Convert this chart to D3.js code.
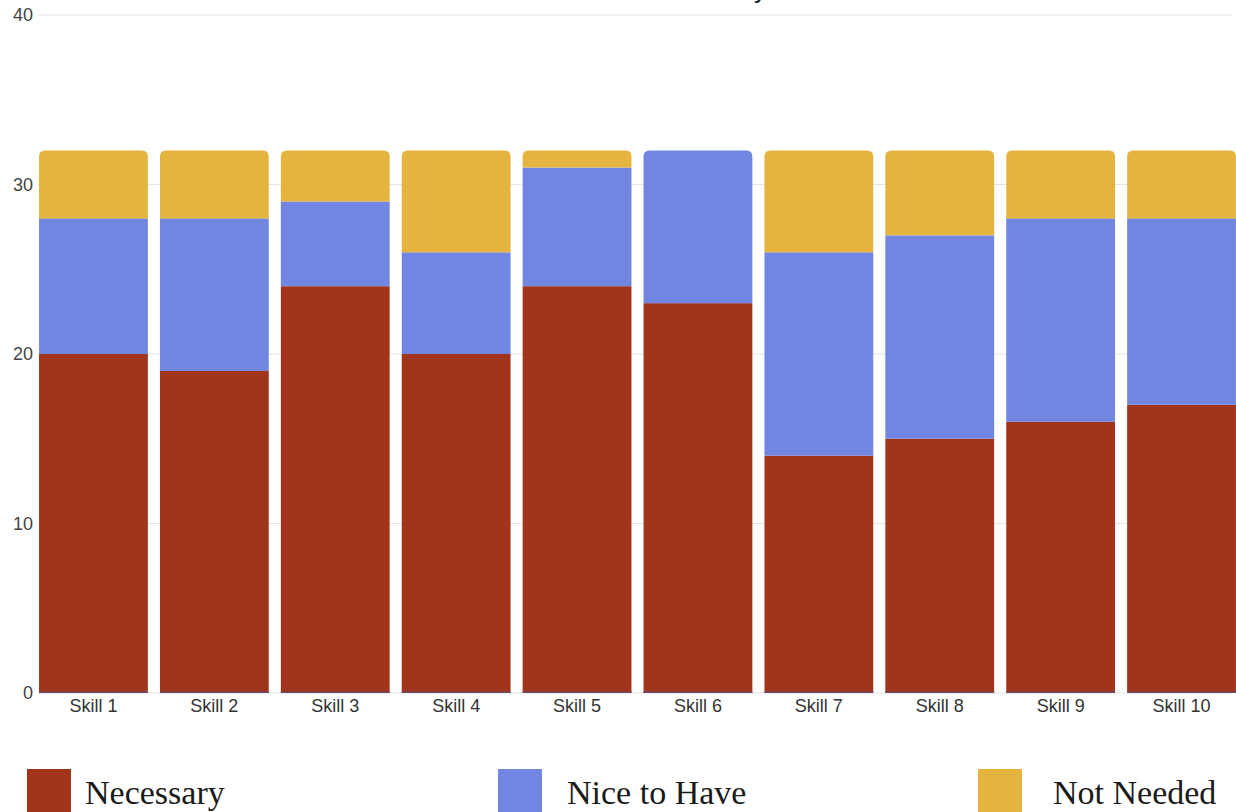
<!DOCTYPE html>
<html>
<head>
<meta charset="utf-8">
<script src="https://cdn.jsdelivr.net/npm/d3@7"></script>
<style>
  html, body { margin: 0; padding: 0; background: #ffffff; overflow: hidden; }
  svg { display: block; }
</style>
</head>
<body>
<svg id="chart" width="1236" height="812"></svg>
<script>
const categories = ["Skill 1","Skill 2","Skill 3","Skill 4","Skill 5","Skill 6","Skill 7","Skill 8","Skill 9","Skill 10"];
const seriesNames = ["Necessary","Nice to Have","Not Needed"];
const necessary  = [20,19,24,20,24,23,14,15,16,17];
const niceToHave = [ 8, 9, 5, 6, 7, 9,12,12,12,11];
const notNeeded  = [ 4, 4, 3, 6, 1, 0, 6, 5, 4, 4];
const yTicks = [0,10,20,30,40];
const colors = ["#a1341b","#7086e0","#e4b43f"];
const titleText = "Skill Necessity";

const rows = categories.map((c,i)=>({cat:c, "Necessary":necessary[i], "Nice to Have":niceToHave[i], "Not Needed":notNeeded[i]}));
const stack = d3.stack().keys(seriesNames);
const layers = stack(rows);

const svg = d3.select("#chart");
const x = d3.scaleBand().domain(categories).range([33, 1242]).paddingInner(0.1).paddingOuter(0.05);
const y = d3.scaleLinear().domain([0,40]).range([693, 15]);

// title (mostly cut off at top, as in the reference)
svg.append("text").attr("x", 767).attr("y", -2).attr("text-anchor","end")
  .attr("font-family","Liberation Sans, Arial, sans-serif").attr("font-size",26)
  .attr("fill","#222").text(titleText);

// gridlines
svg.append("g").selectAll("line").data(yTicks).join("line")
  .attr("x1", 38).attr("x2", 1232)
  .attr("y1", d=>y(d)).attr("y2", d=>y(d))
  .attr("stroke", "#e3e3e3").attr("stroke-width", 1.2);

// y axis labels
const yAxis = d3.axisLeft(y).tickValues(yTicks).tickSize(0).tickPadding(0);
const yg = svg.append("g").attr("transform","translate(33,0)").call(yAxis);
yg.select(".domain").remove();
yg.selectAll("text").attr("font-family","Liberation Sans, Arial, sans-serif").attr("font-size",18).attr("fill","#444");

// bars
const r = 6;
function roundedTop(x0, y0, w, h, rad){
  rad = Math.min(rad, h, w/2);
  return `M${x0},${y0+h}V${y0+rad}Q${x0},${y0} ${x0+rad},${y0}H${x0+w-rad}Q${x0+w},${y0} ${x0+w},${y0+rad}V${y0+h}Z`;
}
const bw = x.bandwidth();
layers.forEach((layer, li) => {
  const g = svg.append("g").attr("fill", colors[li]);
  layer.forEach((d, i) => {
    const h = y(d[0]) - y(d[1]);
    if (h <= 0) return;
    let isTop = true;
    for (let k = li+1; k < layers.length; k++) if (layers[k][i][1] - layers[k][i][0] > 0) isTop = false;
    const x0 = x(categories[i]);
    if (isTop) {
      g.append("path").attr("d", roundedTop(x0, y(d[1]), bw, h, r));
    } else {
      g.append("rect").attr("x", x0).attr("y", y(d[1])).attr("width", bw).attr("height", h);
    }
  });
});

// thin baseline under each bar
svg.append("g").selectAll("rect").data(categories).join("rect")
  .attr("x", d=>x(d)).attr("y", y(0)-1.5).attr("width", bw).attr("height", 1.5)
  .attr("fill", "#6d4a63");

// x axis labels
const xAxis = d3.axisBottom(x).tickSize(0).tickPadding(0);
const xg = svg.append("g").attr("transform", `translate(0,${y(0)+6})`).call(xAxis);
xg.select(".domain").remove();
xg.selectAll("text").attr("font-family","Liberation Sans, Arial, sans-serif").attr("font-size",18).attr("fill","#333").attr("dy","0.71em");

// legend
const legendX = [27, 498, 978];
const lg = svg.append("g").selectAll("g").data(seriesNames).join("g")
  .attr("transform", (d,i)=>`translate(${legendX[i]},769)`);
lg.append("rect").attr("width", 44).attr("height", 50).attr("fill", (d,i)=>colors[i]);
lg.append("text").attr("dx", (d,i)=>[58,69,75][i]).attr("y", 35)
  .attr("font-family","Liberation Serif, 'Times New Roman', serif").attr("font-size",34)
  .attr("fill","#1a1a1a").text(d=>d);
</script>
</body>
</html>
